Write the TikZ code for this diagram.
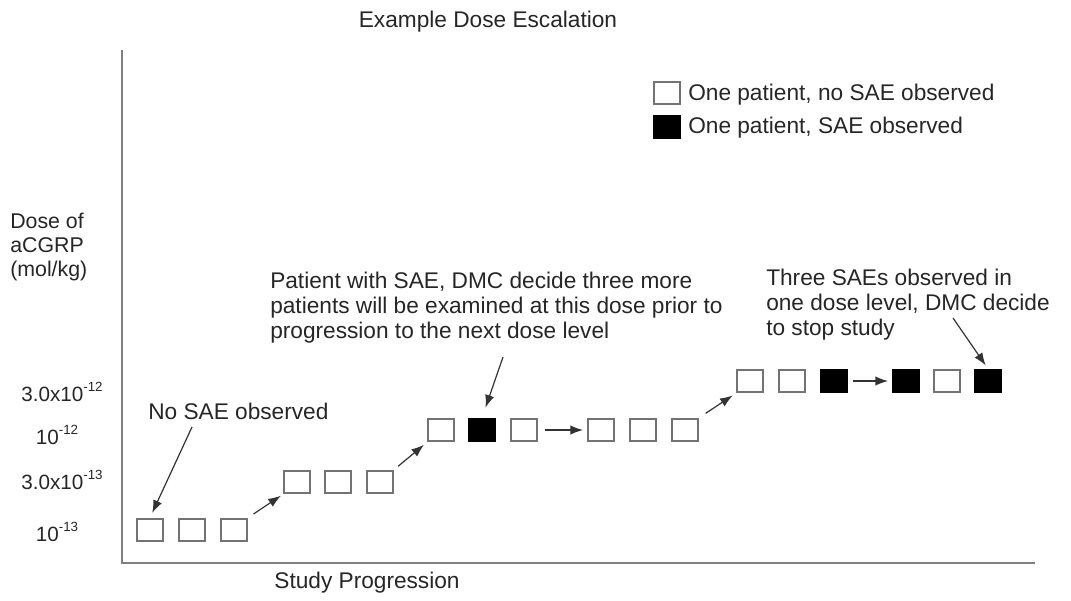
\documentclass[tikz,border=0pt]{standalone}
\usepackage{fontspec}
\setmainfont{Liberation Sans}
\usetikzlibrary{arrows.meta}
\newcommand{\powup}[1]{\raisebox{0.5em}{\fontsize{10}{10}\selectfont #1}}
\tikzset{
  patient/.style={draw=black!55,fill=white,line width=1.4pt,minimum width=19.5pt,minimum height=17pt,inner sep=0pt},
  sae/.style={patient,draw=black,fill=black},
  note/.style={align=left,anchor=west,inner sep=0pt,font=\fontsize{17}{18.75}\selectfont,text=black!85},
  ticklabel/.style={inner sep=0pt,font=\fontsize{15.5}{17}\selectfont,text=black!85},
  pointer/.style={->,line width=0.9pt,black!80},
}
\begin{document}
\begin{tikzpicture}[x=0.75pt,y=-0.75pt,>={Latex[length=9.5pt,width=7pt]}]
  \useasboundingbox (0,0) rectangle (1071,600);
  % axes
  \coordinate (top) at (122,50);
  \coordinate (origin) at (122,563);
  \coordinate (right) at (1035,563);
  \draw[black!50,line width=1.6pt] (top) -- (origin) -- (right);
  \node[note,anchor=center] (title) at (488,22) {Example Dose Escalation};
  \node[note,anchor=center] (xlabel) at (367,583) {Study Progression};
  \node[note,font=\fontsize{16}{18}\selectfont] (ylabel) at (10,247) {Dose of\\aCGRP\\(mol/kg)};
  \node[ticklabel] (d4) at (62,392) {3.0x10\powup{-12}};
  \node[ticklabel] (d3) at (57,435) {10\powup{-12}};
  \node[ticklabel] (d2) at (62,480) {3.0x10\powup{-13}};
  \node[ticklabel] (d1) at (57,532) {10\powup{-13}};
  % legend
  \node[patient] (keyno) at (667,93) {};
  \node[note] (keynotxt) at (688,95) {One patient, no SAE observed};
  \node[sae] (keysae) at (667,127) {};
  \node[note] (keysaetxt) at (688,128) {One patient, SAE observed};
  % patients, one row per dose
  \node[patient] (r1a) at (150,530) {};
  \node[patient] (r1b) at (192,530) {};
  \node[patient] (r1c) at (234,530) {};
  \node[patient] (r2a) at (297,482) {};
  \node[patient] (r2b) at (338,482) {};
  \node[patient] (r2c) at (380,482) {};
  \node[patient] (r3a) at (441,430) {};
  \node[sae]     (r3b) at (482,430) {};
  \node[patient] (r3c) at (524,430) {};
  \node[patient] (r3d) at (601,430) {};
  \node[patient] (r3e) at (643,430) {};
  \node[patient] (r3f) at (685,430) {};
  \node[patient] (r4a) at (750,381) {};
  \node[patient] (r4b) at (792,381) {};
  \node[sae]     (r4c) at (834,381) {};
  \node[sae]     (r4d) at (906,381) {};
  \node[patient] (r4e) at (947,381) {};
  \node[sae]     (r4f) at (988,381) {};
  % escalation arrows
  \draw[pointer,shorten <=5pt,shorten >=2pt] (r1c.north east) -- (r2a.south west);
  \draw[pointer,shorten <=4pt,shorten >=3pt] (r2c.north east) -- (r3a.south west);
  \draw[pointer,shorten <=6pt,shorten >=3pt] (r3f.north east) -- (r4a.south west);
  \draw[pointer,shorten <=5pt,shorten >=3pt] (r3c.east) -- (r3d.west);
  \draw[pointer,shorten <=4pt,shorten >=3pt] (r4c.east) -- (r4d.west);
  % notes
  \node[note] (nosae) at (148,411) {No SAE observed};
  \node[note] (onesae) at (270,308) {Patient with SAE, DMC decide three more\\patients will be examined at this dose prior to\\progression to the next dose level};
  \node[note] (stop) at (766,305) {Three SAEs observed in\\one dose level, DMC decide\\to stop study};
  \coordinate (nosaetail) at (192,427);
  \coordinate (onesaetail) at (503,357);
  \coordinate (stoptail) at (953,318);
  \draw[pointer,shorten >=4pt] (nosaetail) -- (r1a.north);
  \draw[pointer,shorten >=8pt] (onesaetail) -- (r3b.north);
  \draw[pointer,shorten >=3pt] (stoptail) -- (r4f.north);
\end{tikzpicture}
\end{document}
